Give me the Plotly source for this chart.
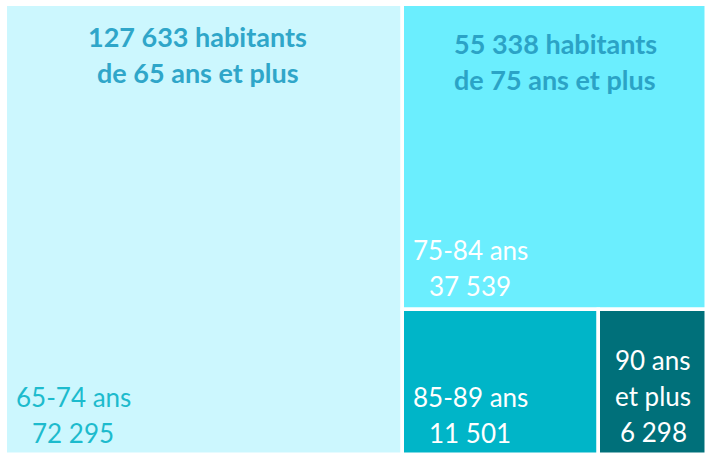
import plotly.graph_objects as go

# Data
groups = ["65-74 ans", "75-84 ans", "85-89 ans", "90 ans<br>et plus"]
values = [72295, 37539, 11501, 6298]
total_65 = 127633
total_75 = 55338
headers = ["127 633 habitants<br>de 65 ans et plus", "55 338 habitants<br>de 75 ans et plus"]
value_labels = ["72 295", "37 539", "11 501", "6 298"]

colors = ["#CCF7FE", "#6BEEFE", "#00B5C8", "#00707A"]
label_colors = ["#1DBBCD", "#FFFFFF", "#FFFFFF", "#FFFFFF"]
header_colors = ["#2FA6C9", "#2BA3C6"]
FONT = "Lato"
LINE = 36  # px between lines

# slice-dice layout computed from data
v65, v75_84, v85_89, v90 = values
v85p = v85_89 + v90
h_low = v85p / total_75
w85 = total_75 * v85_89 / v85p
w90 = total_75 * v90 / v85p

cells = [
    (0, v65, 0, 1),
    (v65, total_75, h_low, 1 - h_low),
    (v65, w85, 0, h_low),
    (v65 + w85, w90, 0, h_low),
]

fig = go.Figure()
for (x0, w, y0, h), c, name in zip(cells, colors, groups):
    fig.add_trace(go.Bar(
        x=[x0 + w / 2], width=[w], base=[y0], y=[h],
        marker=dict(color=c, line=dict(color="white", width=3.5)),
        hoverinfo="skip", showlegend=False, name=name,
    ))

# Cell labels (one annotation per line for reference-like line spacing)
bottom_off = [20, 24, 20, 21]
for i, ((x0, w, y0, h), g, vl, lc) in enumerate(zip(cells, groups, value_labels, label_colors)):
    lines = g.split("<br>") + [vl]
    n = len(lines)
    yref, yy = ("paper", 0) if y0 == 0 else ("y", y0)
    for k, ln in enumerate(lines):
        ys = bottom_off[i] + (n - 1 - k) * LINE
        if i == 3:
            fig.add_annotation(x=x0 + w / 2, y=yy, xref="x", yref=yref, text=ln,
                               showarrow=False, xanchor="center", yanchor="middle",
                               yshift=ys, font=dict(family=FONT, size=26, color=lc))
        else:
            fig.add_annotation(x=x0, y=yy, xref="x", yref=yref, text=ln,
                               showarrow=False, xanchor="center", yanchor="middle",
                               xshift=67, yshift=ys, font=dict(family=FONT, size=26, color=lc))

# Headers
header_x = [v65 / 2, v65 + total_75 / 2]
header_xshift = [-7, 0]
header_top = [38, 45]
for hx, hxs, ht, hd, hc in zip(header_x, header_xshift, header_top, headers, header_colors):
    for k, ln in enumerate(hd.split("<br>")):
        fig.add_annotation(x=hx, y=1, xref="x", yref="y", text=f"<b>{ln}</b>",
                           showarrow=False, xanchor="center", yanchor="middle",
                           xshift=hxs, yshift=-(ht - 7 + k * LINE),
                           font=dict(family=FONT, size=27, color=hc))

fig.update_layout(
    width=705, height=453,
    margin=dict(l=6, r=0, t=5, b=0),
    paper_bgcolor="white", plot_bgcolor="white",
    barmode="overlay", bargap=0,
    xaxis=dict(range=[0, total_65 * (1 - 2 / 699)], visible=False, fixedrange=True),
    yaxis=dict(range=[2 / 448, 1], visible=False, fixedrange=True),
    showlegend=False,
)

fig.write_html("out.html", config={"displayModeBar": False},
               post_script="document.body.style.margin='0px';")
